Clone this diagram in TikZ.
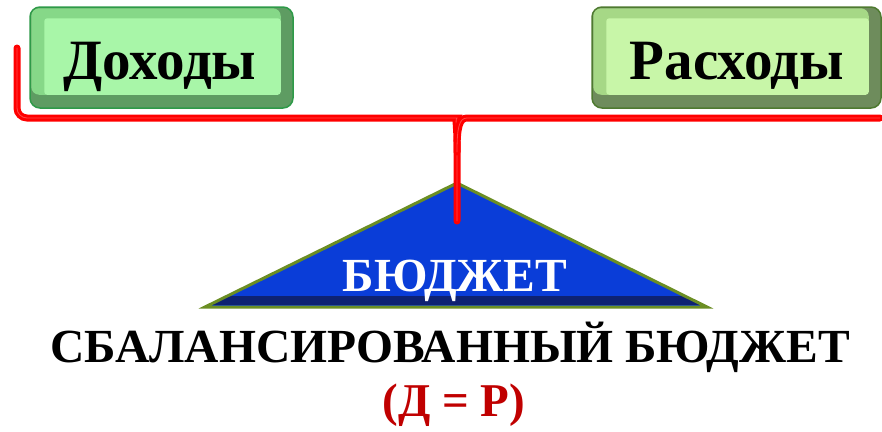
\documentclass[tikz,border=0pt]{standalone}
\usepackage{fontspec}
\setmainfont{Liberation Serif}
\usepackage{xcolor}
\usetikzlibrary{calc}

\definecolor{incFace}{HTML}{A8F6A8}
\definecolor{incLight}{HTML}{86D888}
\definecolor{incDark}{HTML}{5E9C62}
\definecolor{incBorder}{HTML}{2E9A48}
\definecolor{expFace}{HTML}{C8F6A8}
\definecolor{expLight}{HTML}{A6D886}
\definecolor{expDark}{HTML}{6E8C5C}
\definecolor{expBorder}{HTML}{4E7A30}
\definecolor{beamRed}{HTML}{FF0000}
\definecolor{roofBlue}{HTML}{0A3DD8}
\definecolor{roofDark}{HTML}{0E2272}
\definecolor{roofEdge}{HTML}{6B8E23}
\definecolor{formulaRed}{HTML}{C00000}

\begin{document}
\begin{tikzpicture}[x=1pt, y=-1pt]
        % ================= 样式 =================
        \tikzset{
            % 按钮外框
            keybox/.style={rectangle, rounded corners=10pt, line width=1.5pt, minimum height=101pt, inner sep=0pt},
            % 按钮文字
            keytext/.style={font=\bfseries\fontsize{57}{60}\selectfont, text=black, inner sep=0pt, anchor=base},
            % 红色横梁
            beam/.style={line width=7pt, beamRed, line cap=round, postaction={draw=red!72!white, line width=0.8pt}},
            % 三角形
            roof/.style={fill=roofBlue, draw=roofEdge, line width=3pt, line join=miter},
            % 标题文字
            caption/.style={font=\bfseries\fontsize{47.5}{52}\selectfont, inner sep=0pt}
        }
        \useasboundingbox (0,0) rectangle (882,431);

        % ================= 1. 两个按钮 =================
        \node[keybox, minimum width=263pt, fill=incDark, draw=incBorder] (incBox) at (161.5,57.5) {};
        \fill[incLight, rounded corners=8pt] ([shift={(2,2)}]incBox.north west) rectangle ([shift={(-13,-14)}]incBox.south east);
        \fill[incFace, rounded corners=3pt] ([shift={(15,12)}]incBox.north west) rectangle ([shift={(-13,-14)}]incBox.south east);
        \node[keytext] (inc) at (160,79) {Доходы};

        \node[keybox, minimum width=289pt, fill=expDark, draw=expBorder] (expBox) at (736.5,57.5) {};
        \fill[expLight, rounded corners=8pt] ([shift={(2,2)}]expBox.north west) rectangle ([shift={(-13,-14)}]expBox.south east);
        \fill[expFace, rounded corners=3pt] ([shift={(15,12)}]expBox.north west) rectangle ([shift={(-13,-14)}]expBox.south east);
        \node[keytext] (exp) at (737,79) {Расходы};

        % ================= 2. 三角形 =================
        \coordinate (apex) at (457,183);
        \coordinate (roofL) at (205,307);
        \coordinate (roofR) at (707,307);
        \fill[roofBlue] (apex) -- (roofR) -- (roofL) -- cycle;
        \fill[roofDark] (227,296) -- (685,296) -- (703,305) -- (209,305) -- cycle;
        \draw[roof, fill=none] (apex) -- (roofR) -- (roofL) -- cycle;
        \node[caption, text=white, anchor=base] (budget) at (455,291) {БЮДЖЕТ};

        % ================= 3. 横梁 =================
        \coordinate (hookL) at (17,48);
        \coordinate (beamR) at (880,118);
        \coordinate (pivot) at (457,152);
        \coordinate (pin) at (457,221);
        \draw[beam, rounded corners=10pt] (hookL) -- (17,118) -- (447,118) .. controls (455,118) and (457,128) .. (pivot) -- (pin);
        \draw[beam] (beamR) -- (467,118) .. controls (459,118) and (457,128) .. (pivot);

        % ================= 4. 文字 =================
        \node[caption, anchor=base] (balanced) at (450,362) {СБАЛАНСИРОВАННЫЙ БЮДЖЕТ};
        \node[caption, text=formulaRed, font=\bfseries\fontsize{47}{50}\selectfont, anchor=base] (formula) at (454,416) {(Д = Р)};

    \end{tikzpicture}
\end{document}
